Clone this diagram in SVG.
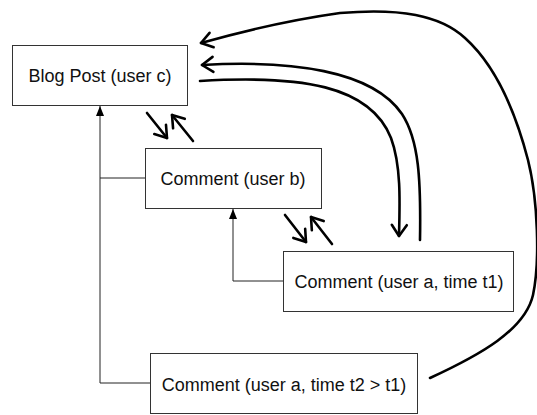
<svg xmlns="http://www.w3.org/2000/svg" width="537" height="415" viewBox="0 0 537 415">
<style>
.box{fill:#fff;stroke:#333;stroke-width:1}
.lbl{font-family:"Liberation Sans",Arial,sans-serif;font-size:18px;fill:#111;text-anchor:middle}
.tree{fill:none;stroke:#222;stroke-width:1}
.hand{fill:none;stroke:#000;stroke-width:2.6;stroke-linecap:round}
</style>
<defs>
<marker id="tri" viewBox="0 0 10 10" refX="10" refY="5" markerWidth="10" markerHeight="10" markerUnits="userSpaceOnUse" orient="auto">
<path d="M0,1 L10,5 L0,9 Z" fill="#000"/>
</marker>
<marker id="open" viewBox="-14 -10 16 20" refX="0" refY="0" markerWidth="16" markerHeight="20" markerUnits="userSpaceOnUse" orient="auto">
<path d="M-11,-7.5 L0,0 L-11,7.5" fill="none" stroke="#000" stroke-width="2.6" stroke-linecap="round" stroke-linejoin="round"/>
</marker>
</defs>
<g id="connectors">
<path class="tree" d="M150,383 H100 V106" marker-end="url(#tri)"/>
<path class="tree" d="M145,178 H100"/>
<path class="tree" d="M283,281 H233 V209" marker-end="url(#tri)"/>
<path class="hand" d="M147,113 L167,138" marker-end="url(#open)"/>
<path class="hand" d="M193,141 L172,115" marker-end="url(#open)"/>
<path class="hand" d="M285,215 L306,242" marker-end="url(#open)"/>
<path class="hand" d="M332,244 L311,217" marker-end="url(#open)"/>
<path class="hand" d="M200,81 C300,75 370,85 391,138 C401,165 400,200 399,236" marker-end="url(#open)"/>
<path class="hand" d="M420,240 C421,180 419,140 402,114 C372,70 290,60 202,65" marker-end="url(#open)"/>
<path class="hand" d="M430,378 C480,355 525,330 533,295 C540,262 538,200 528,160 C515,110 495,65 465,38 C440,15 400,8 340,13 C290,20 240,32 201,43" marker-end="url(#open)"/>
</g>
<g id="blog-post">
<rect class="box" x="12.5" y="45.5" width="175" height="60"/>
<text class="lbl" x="100" y="82">Blog Post (user c)</text>
</g>
<g id="comment-b">
<rect class="box" x="145.5" y="148.5" width="176" height="60"/>
<text class="lbl" x="233" y="185">Comment (user b)</text>
</g>
<g id="comment-a-t1">
<rect class="box" x="283.5" y="251.5" width="230" height="60"/>
<text class="lbl" x="399" y="288">Comment (user a, time t1)</text>
</g>
<g id="comment-a-t2">
<rect class="box" x="150.5" y="353.5" width="267" height="60"/>
<text class="lbl" x="284" y="391">Comment (user a, time t2 &gt; t1)</text>
</g>
</svg>
